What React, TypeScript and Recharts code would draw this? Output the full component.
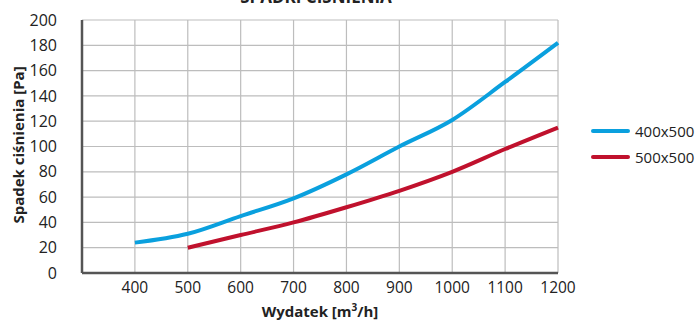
import { LineChart, Line, XAxis, YAxis, CartesianGrid, Legend, Label } from 'recharts';

const flows = [400, 500, 600, 700, 800, 900, 1000, 1100, 1200];
const drop400x500 = [24, 31, 45, 59, 78, 100, 121, 151, 182];
const drop500x500 = [null, 20, 30, 40, 52, 65, 80, 98, 115];
const yTicks = [0, 20, 40, 60, 80, 100, 120, 140, 160, 180, 200];
const seriesNames = ['400x500', '500x500'];
const seriesColors = ['#0aa0de', '#c0112d'];

const data = flows.map((q, i) => ({ q, a: drop400x500[i], b: drop500x500[i] }));

const FONT = '"Open Sans", sans-serif';

function LegendBox() {
  return (
    <div style={{ fontFamily: FONT, fontSize: 15, color: '#222' }}>
      {seriesNames.map((name, i) => (
        <div key={name} style={{ display: 'flex', alignItems: 'center', height: 26 }}>
          <svg width={42} height={10}>
            <line x1={3} y1={5} x2={38} y2={5} stroke={seriesColors[i]} strokeWidth={4} strokeLinecap="round" />
          </svg>
          <span style={{ marginLeft: 3 }}>{name}</span>
        </div>
      ))}
    </div>
  );
}

export default function App() {
  return (
    <div style={{ position: 'absolute', left: 0, top: 0 }}>
      <LineChart width={697} height={322} data={data} margin={{ top: 20, right: 139, left: 42, bottom: 19 }}>
        <CartesianGrid stroke="#bdbdbd" strokeWidth={1.2} />
        <XAxis
          dataKey="q"
          type="number"
          domain={[300, 1200]}
          ticks={flows}
          axisLine={{ stroke: '#555', strokeWidth: 2.5 }}
          tickLine={false}
          tick={{ fill: '#222', fontSize: 15.5, fontFamily: FONT }}
          tickMargin={3}
          height={30}
        >
          <Label
            content={() => (
              <g>
                <text x={320} y={317} textAnchor="middle" fontFamily={FONT} fontSize={15} fontWeight="bold" fill="#222">
                  Wydatek [m<tspan dy={-6} fontSize={10}>3</tspan><tspan dy={6}>/h]</tspan>
                </text>
                <text x={316} y={3} textAnchor="middle" fontFamily={FONT} fontSize={17} fontWeight="bold" fill="#222">
                  SPADKI CIŚNIENIA
                </text>
              </g>
            )}
          />
        </XAxis>
        <YAxis
          domain={[0, 200]}
          ticks={yTicks}
          interval={0}
          width={40}
          axisLine={{ stroke: '#555', strokeWidth: 2.5 }}
          tickLine={false}
          tick={{ fill: '#222', fontSize: 16, fontFamily: FONT }}
          tickMargin={19}
        >
          <Label
            content={() => (
              <text x={24} y={145} transform="rotate(-90 24 145)" textAnchor="middle" fontFamily={FONT} fontSize={15} fontWeight="bold" fill="#222">
                Spadek ciśnienia [Pa]
              </text>
            )}
          />
        </YAxis>
        <Legend
          layout="vertical"
          align="center"
          verticalAlign="middle"
          content={() => <LegendBox />}
          wrapperStyle={{ position: 'absolute', left: 590, top: 118, width: 110 }}
        />
        <Line type="monotone" dataKey="a" name={seriesNames[0]} stroke={seriesColors[0]} strokeWidth={4} dot={false} isAnimationActive={false} />
        <Line type="monotone" dataKey="b" name={seriesNames[1]} stroke={seriesColors[1]} strokeWidth={4} dot={false} isAnimationActive={false} />
      </LineChart>
    </div>
  );
}
